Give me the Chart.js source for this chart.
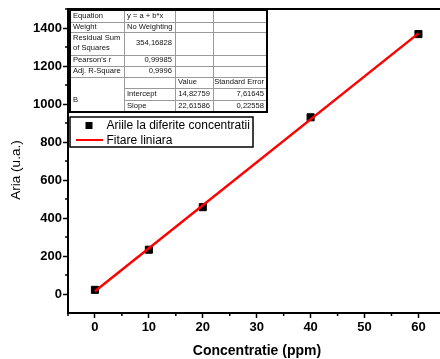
<!DOCTYPE html>
<html>
<head>
<meta charset="utf-8">
<script src="https://cdn.jsdelivr.net/npm/chart.js@4.4.0/dist/chart.umd.min.js"></script>
<style>
  html, body { margin: 0; padding: 0; background: #fff; overflow: hidden; }
  canvas { display: block; }
</style>
</head>
<body>
<canvas id="chart" width="440" height="359"></canvas>
<script>
'use strict'

// measured points (x = concentration, y = area)
const concentrations = [0, 10, 20, 40, 60];
const areas = [22, 233, 457, 930, 1368];

// linear fit ends
const fitX = [0, 60];
const fitY = [14.8, 1371.8];

const seriesNames = ['Ariile la diferite concentratii', 'Fitare liniara'];

const xTicks = [0, 10, 20, 30, 40, 50, 60];
const xMinorTicks = [-5, 5, 15, 25, 35, 45, 55];
const yTicks = [0, 200, 400, 600, 800, 1000, 1200, 1400];
const yMinorTicks = [100, 300, 500, 700, 900, 1100, 1300, 1500];

const xTitle = 'Concentratie (ppm)';
const yTitle = 'Aria (u.a.)';

// fit result table (Origin style)
const tableRows = [
  ['Equation', 'y = a + b*x', '', ''],
  ['Weight', 'No Weighting', '', ''],
  ['Residual Sum|of Squares', '354,16828', '', ''],
  ["Pearson's r", '0,99985', '', ''],
  ['Adj. R-Square', '0,9996', '', ''],
  ['', '', 'Value', 'Standard Error'],
  ['B', 'Intercept', '14,82759', '7,61645'],
  ['', 'Slope', '22,61586', '0,22558']
];

const FONT = 'Arial, "Liberation Sans", sans-serif';

// table geometry
const colX = [70, 124, 175, 213, 267];
const rowY = [11, 21.5, 32, 54.5, 65.5, 76.5, 88, 100, 112];

const extras = {
  id: 'extras',
  afterDraw (chart) {
    const ctx = chart.ctx;
    const area = chart.chartArea;
    const xs = chart.scales.x;
    const ys = chart.scales.y;
    ctx.save();

    // top frame line
    ctx.strokeStyle = '#000';
    ctx.lineWidth = 2;
    ctx.beginPath();
    ctx.moveTo(area.left - 1, area.top);
    ctx.lineTo(area.right + 2, area.top);
    ctx.stroke();

    // minor ticks
    ctx.lineWidth = 1.5;
    ctx.beginPath();
    xMinorTicks.forEach(v => {
      const px = xs.getPixelForValue(v);
      ctx.moveTo(px, area.bottom);
      ctx.lineTo(px, area.bottom + 3);
    });
    yMinorTicks.forEach(v => {
      const py = ys.getPixelForValue(v);
      if (py < area.top) return;
      ctx.moveTo(area.left, py);
      ctx.lineTo(area.left - 3, py);
    });
    ctx.stroke();

    // axis titles
    ctx.fillStyle = '#000';
    ctx.textAlign = 'center';
    ctx.textBaseline = 'middle';
    ctx.font = 'bold 14px ' + FONT;
    ctx.fillText(xTitle, 257, 351);
    ctx.save();
    ctx.translate(16, 170);
    ctx.rotate(-Math.PI / 2);
    ctx.font = '13.5px ' + FONT;
    ctx.fillText(yTitle, 0, 0);
    ctx.restore();

    // table
    const x0 = colX[0], x1 = colX[colX.length - 1];
    const y0 = rowY[0], y1 = rowY[rowY.length - 1];
    ctx.fillStyle = '#fff';
    ctx.fillRect(x0, y0, x1 - x0, y1 - y0);
    ctx.strokeStyle = '#9a9a9a';
    ctx.lineWidth = 1;
    ctx.beginPath();
    for (let r = 1; r < rowY.length - 1; r++) {
      // B cell spans the last three rows in the first column
      const startX = r >= 6 ? colX[1] : x0;
      ctx.moveTo(startX, Math.round(rowY[r]) + 0.5);
      ctx.lineTo(x1, Math.round(rowY[r]) + 0.5);
    }
    for (let c = 1; c < colX.length - 1; c++) {
      ctx.moveTo(colX[c] + 0.5, y0);
      ctx.lineTo(colX[c] + 0.5, y1);
    }
    ctx.stroke();
    ctx.strokeStyle = '#000';
    ctx.lineWidth = 2;
    ctx.strokeRect(x0, y0 - 1, x1 - x0, y1 - y0 + 1);

    ctx.fillStyle = '#111';
    ctx.font = '7.6px ' + FONT;
    ctx.textBaseline = 'middle';
    tableRows.forEach((row, r) => {
      row.forEach((txt, c) => {
        if (!txt) return;
        let cy = (rowY[r] + rowY[r + 1]) / 2;
        if (txt === 'B') cy = 100;
        const isNum = /^[0-9]/.test(txt) || txt === 'Standard Error';
        ctx.textAlign = isNum ? 'right' : 'left';
        const tx = isNum ? colX[c + 1] - 3 : colX[c] + 3;
        const lines = txt.split('|');
        lines.forEach((ln, i) => {
          ctx.fillText(ln, tx, cy + (i - (lines.length - 1) / 2) * 10);
        });
      });
    });

    // legend
    ctx.fillStyle = '#fff';
    ctx.fillRect(70, 117, 183, 30);
    ctx.strokeStyle = '#000';
    ctx.lineWidth = 1.5;
    ctx.strokeRect(70, 117, 183, 30);
    ctx.fillStyle = '#000';
    ctx.fillRect(85.5, 122, 7, 7);
    ctx.strokeStyle = '#ff0000';
    ctx.lineWidth = 2;
    ctx.beginPath();
    ctx.moveTo(76, 140);
    ctx.lineTo(103, 140);
    ctx.stroke();
    ctx.fillStyle = '#000';
    ctx.font = '12px ' + FONT;
    ctx.textAlign = 'left';
    ctx.fillText(seriesNames[0], 106.5, 126);
    ctx.fillText(seriesNames[1], 106.5, 140.5);

    ctx.restore();
  }
};

const points = concentrations.map((x, i) => ({ x: x, y: areas[i] }));
const fitLine = fitX.map((x, i) => ({ x: x, y: fitY[i] }));

new Chart(document.getElementById('chart'), {
  type: 'scatter',
  data: {
    datasets: [
      {
        label: seriesNames[0],
        data: points,
        pointStyle: 'rect',
        pointRadius: 5,
        pointBackgroundColor: '#000',
        pointBorderColor: '#000',
        pointBorderWidth: 1,
        showLine: false,
        order: 1
      },
      {
        label: seriesNames[1],
        data: fitLine,
        showLine: true,
        borderColor: '#ff0000',
        borderWidth: 2.5,
        pointRadius: 0,
        order: 0
      }
    ]
  },
  options: {
    responsive: false,
    devicePixelRatio: 1,
    animation: false,
    layout: { autoPadding: false, padding: { top: 9, right: 0, left: 0, bottom: 0 } },
    plugins: {
      legend: { display: false },
      tooltip: { enabled: false }
    },
    scales: {
      x: {
        type: 'linear',
        min: -5,
        max: 64,
        afterBuildTicks: scale => { scale.ticks = xTicks.map(v => ({ value: v })); },
        afterFit: scale => { scale.height = 46; },
        ticks: {
          autoSkip: false,
          maxRotation: 0,
          padding: 2,
          color: '#000',
          font: { family: FONT, size: 13, weight: 'bold' },
          callback: v => String(v)
        },
        grid: {
          drawOnChartArea: false,
          drawTicks: true,
          tickLength: 5,
          tickColor: '#000',
          tickWidth: 1.5
        },
        border: { display: true, color: '#000', width: 2 }
      },
      y: {
        type: 'linear',
        min: -100,
        max: 1500,
        afterBuildTicks: scale => { scale.ticks = yTicks.map(v => ({ value: v })); },
        afterFit: scale => { scale.width = 68; },
        ticks: {
          autoSkip: false,
          padding: 1,
          color: '#000',
          font: { family: FONT, size: 13, weight: 'bold' },
          callback: v => String(v)
        },
        grid: {
          drawOnChartArea: false,
          drawTicks: true,
          tickLength: 5,
          tickColor: '#000',
          tickWidth: 1.5
        },
        border: { display: true, color: '#000', width: 2 }
      }
    }
  },
  plugins: [extras]
});
</script>
</body>
</html>
